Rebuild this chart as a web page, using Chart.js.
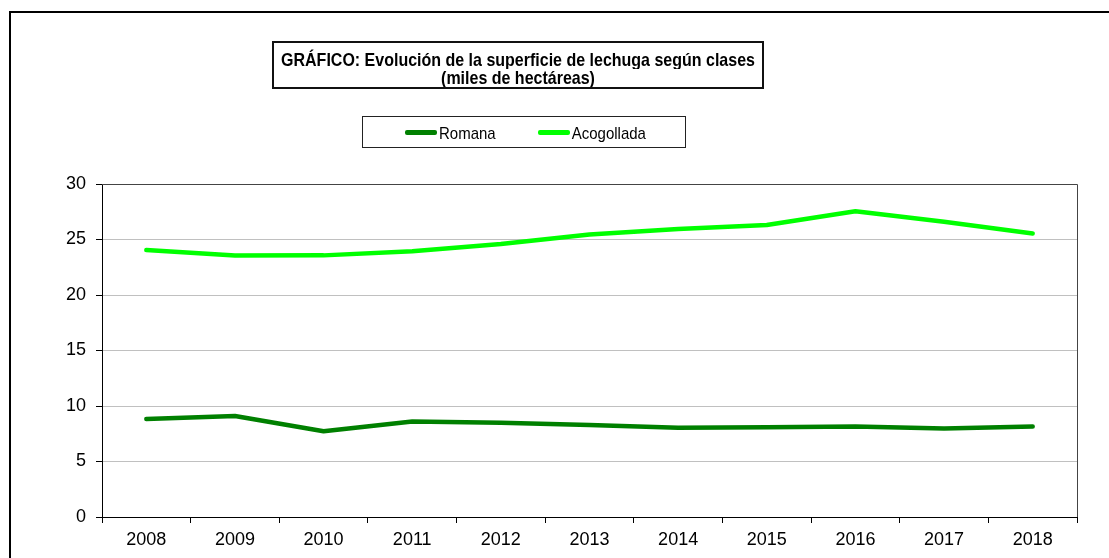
<!DOCTYPE html>
<html lang="es">
<head>
<meta charset="utf-8">
<title>Superficie de lechuga</title>
<script src="https://cdn.jsdelivr.net/npm/chart.js@4/dist/chart.umd.min.js"></script>
<style>
  html, body { margin: 0; padding: 0; background: #fff; overflow: hidden; }
  #wrap { position: relative; width: 1109px; height: 558px; overflow: hidden; font-family: Arial, "Liberation Sans", sans-serif; }
  #chart { position: absolute; left: 0; top: 0; }
  .frame {
    position: absolute; left: 9px; top: 11px; width: 1200px; height: 700px;
    border-left: 2px solid #000; border-top: 2px solid #000; pointer-events: none;
  }
  #title {
    position: absolute; left: 272px; top: 41px; width: 492px; height: 48px;
    box-sizing: border-box; border: 2px solid #111; padding-top: 8px;
    text-align: center; font-weight: bold; font-size: 16px; line-height: 18px; color: #000;
  }
  #title span, #legend .txt { display: inline-block; transform: scaleY(1.12); }
  #legend {
    position: absolute; left: 362px; top: 116px; width: 324px; height: 32px;
    box-sizing: border-box; border: 1px solid #222; padding-left: 42px;
    display: flex; align-items: center; gap: 42px; font-size: 15px; color: #000;
  }
  .item { display: flex; align-items: center; }
  .swatch { width: 32px; height: 5px; border-radius: 2px; margin-right: 2px; }
</style>
</head>
<body>
<div id="wrap">
  <canvas id="chart" width="1109" height="558"></canvas>
  <div class="frame"></div>
  <div id="title"><span>GRÁFICO: Evolución de la superficie de lechuga según clases</span><br><span>(miles de hectáreas)</span></div>
  <div id="legend"></div>
</div>
<script>
// ---------- datos ----------
const YEARS = ["2008", "2009", "2010", "2011", "2012", "2013", "2014", "2015", "2016", "2017", "2018"];
const ROMANA = [8.83, 9.1, 7.72, 8.6, 8.5, 8.28, 8.05, 8.08, 8.15, 7.98, 8.15];
const ACOGOLLADA = [24.05, 23.55, 23.57, 23.95, 24.6, 25.45, 25.95, 26.3, 27.55, 26.6, 25.55];
const Y_MIN = 0, Y_MAX = 30, Y_STEP = 5;

const COL_ROMANA = "#008000";
const COL_ACOGOLLADA = "#00ff00";
const FONT = "Arial, 'Liberation Sans', sans-serif";

// marco superior y derecho del área de trazado
const plotFrame = {
  id: "plotFrame",
  afterDraw(chart) {
    const { ctx, chartArea: a } = chart;
    ctx.save();
    ctx.strokeStyle = "#444";
    ctx.lineWidth = 1;
    ctx.beginPath();
    ctx.moveTo(a.left, a.top + 0.5);
    ctx.lineTo(a.right + 0.5, a.top + 0.5);
    ctx.lineTo(a.right + 0.5, a.bottom);
    ctx.stroke();
    ctx.restore();
  },
};

const chart = new Chart(document.getElementById("chart"), {
  type: "line",
  data: {
    labels: YEARS,
    datasets: [
      { label: "Romana", data: ROMANA, borderColor: COL_ROMANA, backgroundColor: COL_ROMANA },
      { label: "Acogollada", data: ACOGOLLADA, borderColor: COL_ACOGOLLADA, backgroundColor: COL_ACOGOLLADA },
    ],
  },
  options: {
    responsive: false,
    animation: false,
    devicePixelRatio: 1,
    layout: { padding: { left: 0, top: 184, right: 32, bottom: 0 } },
    elements: {
      point: { radius: 0, hoverRadius: 0 },
      line: { borderWidth: 4.5, tension: 0, borderCapStyle: "round", borderJoinStyle: "round" },
    },
    plugins: {
      legend: { display: false },
      title: { display: false },
      tooltip: { enabled: false },
    },
    scales: {
      x: {
        offset: true,
        afterFit: (s) => { s.height = 41; },
        border: { color: "#000", width: 1 },
        grid: { drawOnChartArea: false, color: "#000", tickColor: "#000", tickLength: 6, offset: true },
        ticks: { color: "#000", padding: 6, font: { family: FONT, size: 18 }, maxRotation: 0 },
      },
      y: {
        min: Y_MIN,
        max: Y_MAX,
        afterFit: (s) => { s.width = 102; },
        border: { color: "#000", width: 1 },
        grid: {
          color: (c) => (c.tick && c.tick.value === Y_MAX ? "#444" : "#c0c0c0"),
          tickColor: "#000",
          tickLength: 6,
        },
        ticks: { stepSize: Y_STEP, color: "#000", padding: 10, font: { family: FONT, size: 18 } },
      },
    },
  },
  plugins: [plotFrame],
});

// leyenda en HTML a partir de las series
const legendEl = document.getElementById("legend");
chart.data.datasets.forEach((ds) => {
  const item = document.createElement("div");
  item.className = "item";
  item.innerHTML = `<span class="swatch" style="background:${ds.borderColor}"></span><span class="txt">${ds.label}</span>`;
  legendEl.appendChild(item);
});
</script>
</body>
</html>
